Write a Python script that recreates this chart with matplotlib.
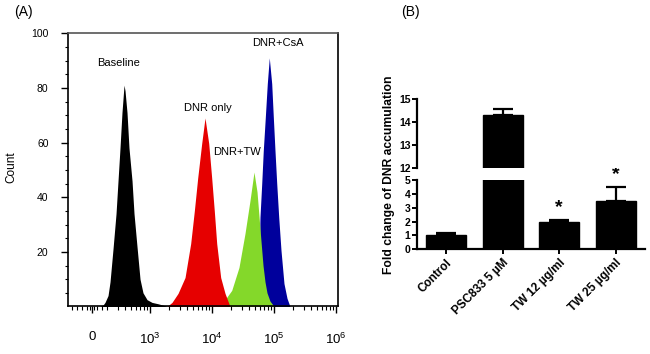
import numpy as np
import matplotlib
matplotlib.use("Agg")
import matplotlib.pyplot as plt

plt.rcParams['font.family'] = ['Liberation Sans', 'DejaVu Sans']
plt.rcParams['mathtext.fontset'] = 'custom'
plt.rcParams['mathtext.rm'] = 'Liberation Sans'
plt.rcParams['mathtext.it'] = 'Liberation Sans'

# ---------------- Panel A data (x = log10 fluorescence, y = count) ----------------
baseline_x = [2.194, 2.242, 2.274, 2.323, 2.355, 2.403, 2.452, 2.484, 2.516, 2.548, 2.581,
              2.597, 2.629, 2.661, 2.710, 2.742, 2.790, 2.839, 2.887, 2.952, 3.032, 3.129, 3.242, 3.290]
baseline_y = [0, 0.5, 1.5, 4, 9, 21, 34, 46, 58, 71, 81,
              79, 71, 58, 46, 34, 22, 10, 5, 2.5, 1.5, 1, 0.3, 0]

dnr_x = [3.274, 3.355, 3.452, 3.565, 3.656, 3.715, 3.769, 3.834, 3.887,
         3.947, 3.995, 4.037, 4.076, 4.140, 4.210, 4.290]
dnr_y = [0, 1.5, 4.8, 10.6, 23, 35, 47, 59.7, 69,
         59.7, 47, 35, 23, 10.6, 4.8, 0]

tw_x = [4.081, 4.129, 4.226, 4.318, 4.435, 4.532, 4.613, 4.677,
        4.726, 4.758, 4.790, 4.823, 4.855, 4.887, 4.935, 5.000]
tw_y = [0, 1, 3, 5.9, 14.3, 26.7, 38.8, 49.2,
        42, 33, 24, 15, 9, 5, 2, 0]

csa_x = [4.742, 4.758, 4.763, 4.774, 4.802, 4.827, 4.860, 4.892, 4.924,
         4.963, 4.989, 5.016, 5.044, 5.076, 5.113, 5.161, 5.210, 5.258]
csa_y = [0, 10, 20.5, 32.7, 45, 57, 69.3, 81.6, 91,
         81.6, 69.3, 57, 45, 32.7, 20.5, 8.4, 3, 0]

xtick_labels_a = ['0', r'$10^3$', r'$10^4$', r'$10^5$', r'$10^6$']
ytick_vals_a = [20, 40, 60, 80, 100]
curve_labels = ['Baseline', 'DNR only', 'DNR+TW', 'DNR+CsA']

# ---------------- Panel B data ----------------
categories = ['Control', 'PSC833 5 \u00b5M', 'TW 12 \u00b5g/ml', 'TW 25 \u00b5g/ml']
fold_change = [1.02, 14.3, 1.96, 3.52]
fold_err = [0.13, 0.27, 0.16, 0.97]
significant = [False, False, True, True]

# ---------------- Figure ----------------
fig = plt.figure(figsize=(6.5, 3.54), dpi=100)

# Panel A
axA = fig.add_axes([0.1046, 0.1342, 0.4149, 0.7718])
col_black = '#000000'
col_red = '#e60000'
col_green = '#84d82a'
col_blue = '#00009c'
axA.fill_between(csa_x, csa_y, 0, color=col_blue, lw=0)
axA.fill_between(tw_x, tw_y, 0, color=col_green, lw=0)
axA.fill_between(dnr_x, dnr_y, 0, color=col_red, lw=0)
axA.fill_between(baseline_x, baseline_y, 0, color=col_black, lw=0)

axA.set_xlim(1.677, 6.027)
axA.set_ylim(0, 100)
axA.set_xticks([2.06, 3, 4, 5, 6])
axA.set_xticklabels(xtick_labels_a, fontsize=9.5)
minor_x = [1.74, 1.82, 1.90, 1.98, 2.03, 2.09, 2.14, 2.22]
for d in [2, 3, 4, 5]:
    for m in range(2, 10):
        v = d + np.log10(m)
        if v > 2.25:
            minor_x.append(v)
axA.set_xticks(minor_x, minor=True)
axA.set_yticks(ytick_vals_a)
axA.set_yticks(np.arange(5, 100, 5), minor=True)
axA.tick_params(axis='y', which='major', length=5, width=1, pad=9, labelsize=7.5)
axA.tick_params(axis='y', which='minor', length=2.5, width=0.8)
axA.tick_params(axis='x', which='major', length=5, width=1, pad=13)
axA.tick_params(axis='x', which='minor', length=3, width=0.8)
for lab in axA.get_xticklabels():
    lab.set_verticalalignment('top')
for s in axA.spines.values():
    s.set_linewidth(1.2)
axA.spines['top'].set_color('#555555')

axA.text(2.50, 89.1, curve_labels[0], ha='center', va='center', fontsize=8)
axA.text(3.935, 72.7, curve_labels[1], ha='center', va='center', fontsize=8)
axA.text(4.403, 56.6, curve_labels[2], ha='center', va='center', fontsize=8)
axA.text(5.065, 96.4, curve_labels[3], ha='center', va='center', fontsize=8)

fig.text(11.7 / 650, 1 - 167 / 354, 'Count', rotation=90, ha='center', va='center', fontsize=8.5)
fig.text(23 / 650, 1 - 12 / 354, '(A)', ha='center', va='center', fontsize=10)
fig.text(410 / 650, 1 - 12 / 354, '(B)', ha='center', va='center', fontsize=10)

# Panel B
axLo = fig.add_axes([0.6411, 0.2958, 0.3512, 0.1949])
axHi = fig.add_axes([0.6411, 0.5246, 0.3512, 0.1958])
xpos = np.arange(len(categories))
for ax in (axLo, axHi):
    ax.bar(xpos, fold_change, width=0.707, color='black', edgecolor='black', zorder=2)
    ax.errorbar(xpos, fold_change, yerr=[np.zeros(len(fold_err)), fold_err],
                fmt='none', ecolor='black', elinewidth=1.6, capsize=7, capthick=1.6, zorder=3)
    ax.set_xlim(-0.518, 3.518)
    ax.spines['top'].set_visible(False)
    ax.spines['right'].set_visible(False)
    ax.spines['left'].set_linewidth(1.6)
    ax.spines['bottom'].set_linewidth(1.6)
    ax.tick_params(axis='y', length=3.5, width=1.4, pad=1, labelsize=7.5)

axLo.set_ylim(0, 5)
axLo.set_yticks([0, 1, 2, 3, 4, 5])
axLo.set_yticklabels(['0', '1', '2', '3', '4', '5'], fontweight='bold', fontsize=7.5)
axLo.set_xticks(xpos)
axLo.set_xticklabels(categories, rotation=45, ha='right', rotation_mode='anchor',
                     fontweight='bold', fontsize=8.5)
axLo.tick_params(axis='x', length=3.5, width=1.4, pad=2)

axHi.set_ylim(12, 15)
axHi.set_yticks([12, 13, 14, 15])
axHi.set_yticklabels(['12', '13', '14', '15'], fontweight='bold', fontsize=7.5)
axHi.spines['bottom'].set_visible(False)
axHi.set_xticks([])

for i, sig in enumerate(significant):
    if sig:
        axLo.text(xpos[i], fold_change[i] + fold_err[i] + 0.6, '*', ha='center', va='baseline',
                  fontsize=14, fontweight='bold', clip_on=False)

fig.text(389 / 650, 1 - 174.7 / 354, 'Fold change of DNR accumulation', rotation=90,
         ha='center', va='center', fontsize=8.7, fontweight='bold')

fig.savefig('out.png', dpi=100)
